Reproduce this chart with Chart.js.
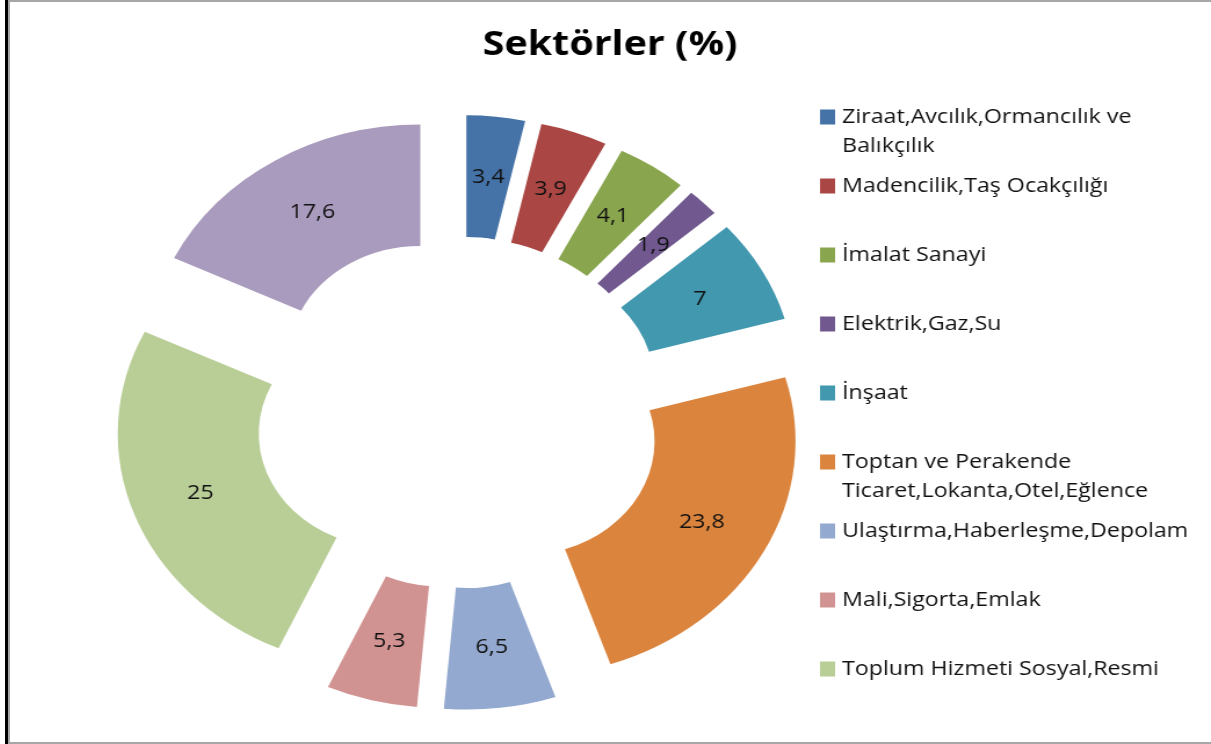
<!DOCTYPE html>
<html>
<head>
<meta charset="utf-8">
<script src="https://cdn.jsdelivr.net/npm/chart.js@4.4.1/dist/chart.umd.min.js"></script>
<style>
    html, body { margin: 0; padding: 0; background: #fff; overflow: hidden; width: 1211px; height: 744px; }
    #frame { position: absolute; left: 8px; top: 0; width: 1210px; height: 740px;
             border-top: 2px solid #a6a6a6; border-left: 2px solid #a6a6a6; border-bottom: 2px solid #a6a6a6; }
    #edge { position: absolute; left: 5px; top: 0; width: 3px; height: 744px; background: #000; }
    #chart { position: absolute; left: 9px; top: 0; }
</style>
</head>
<body>
<div id="frame"></div>
<div id="edge"></div>
<!-- the original picture is stretched sideways, so the canvas is too -->
<canvas id="chart" width="1036" height="744" style="width:1202px;height:744px"></canvas>
<script>
// Sector data
const sectors = [
    'Ziraat,Avcılık,Ormancılık ve Balıkçılık',
    'Madencilik,Taş Ocakçılığı',
    'İmalat Sanayi',
    'Elektrik,Gaz,Su',
    'İnşaat',
    'Toptan ve Perakende Ticaret,Lokanta,Otel,Eğlence',
    'Ulaştırma,Haberleşme,Depolam',
    'Mali,Sigorta,Emlak',
    'Toplum Hizmeti Sosyal,Resmi',
    'Diğer'
];
const shares = [3.4, 3.9, 4.1, 1.9, 7, 23.8, 6.5, 5.3, 25, 17.6];
const sliceColors = ['#4572A7', '#AA4643', '#89A54E', '#71588F', '#4198AF',
                     '#DB843D', '#93A9CF', '#D19392', '#B9CD96', '#A99BBD'];
const chartTitle = 'Sektörler (%)';

// Push every slice outwards along its middle angle
const explodePlugin = {
    id: 'explode',
    afterDatasetsUpdate(chart, args, opts) {
        chart.getDatasetMeta(0).data.forEach(arc => {
            const mid = (arc.startAngle + arc.endAngle) / 2;
            arc.x += Math.cos(mid) * opts.distance;
            arc.y += Math.sin(mid) * opts.distance;
        });
    }
};

// Value labels in the middle of each slice
const sliceLabels = {
    id: 'sliceLabels',
    afterDatasetsDraw(chart, args, opts) {
        const ctx = chart.ctx;
        const values = chart.data.datasets[0].data;
        ctx.save();
        ctx.font = opts.font;
        ctx.fillStyle = opts.color;
        ctx.textAlign = 'center';
        ctx.textBaseline = 'middle';
        chart.getDatasetMeta(0).data.forEach((arc, i) => {
            const mid = (arc.startAngle + arc.endAngle) / 2;
            const r = (arc.innerRadius + arc.outerRadius) / 2;
            ctx.fillText(String(values[i]).replace('.', ','),
                arc.x + Math.cos(mid) * r, arc.y + Math.sin(mid) * r);
        });
        ctx.restore();
    }
};

// Title centred on the whole canvas, not on the chart area
const pageTitle = {
    id: 'pageTitle',
    afterDraw(chart, args, opts) {
        const ctx = chart.ctx;
        ctx.save();
        ctx.font = opts.font;
        ctx.fillStyle = opts.color;
        ctx.textAlign = 'center';
        ctx.textBaseline = 'middle';
        ctx.fillText(opts.text, chart.width / 2, opts.y);
        ctx.restore();
    }
};

function wrapWords(ctx, text, maxWidth) {
    const words = text.split(' ');
    const lines = [];
    let line = '';
    words.forEach(w => {
        const test = line ? line + ' ' + w : w;
        if (line && ctx.measureText(test).width > maxWidth) {
            lines.push(line);
            line = w;
        } else {
            line = test;
        }
    });
    lines.push(line);
    return lines;
}

// Legend on the right, with wrapped labels (Excel style)
const sideLegend = {
    id: 'sideLegend',
    afterDraw(chart, args, opts) {
        const ctx = chart.ctx;
        const colors = chart.data.datasets[0].backgroundColor;
        ctx.save();
        ctx.font = opts.font;
        ctx.textBaseline = 'middle';
        chart.data.labels.forEach((label, i) => {
            const y = opts.top + i * opts.step;
            const lines = wrapWords(ctx, label, opts.maxWidth);
            if (y + (lines.length - 1) * opts.lineHeight > opts.bottom) return;
            ctx.fillStyle = colors[i];
            ctx.fillRect(opts.boxX, y - opts.boxHeight / 2, opts.boxWidth, opts.boxHeight);
            ctx.fillStyle = opts.color;
            lines.forEach((ln, j) => ctx.fillText(ln, opts.textX, y + j * opts.lineHeight));
        });
        ctx.restore();
    }
};

const chart = new Chart(document.getElementById('chart'), {
    type: 'doughnut',
    data: {
        labels: sectors,
        datasets: [{
            data: shares,
            backgroundColor: sliceColors,
            borderWidth: 0,
            hoverOffset: 0,
            clip: false
        }]
    },
    options: {
        responsive: false,
        animation: false,
        events: [],
        radius: 235.5,
        cutout: '48.4%',
        layout: { padding: { top: 84, right: 261, bottom: 3 } },
        plugins: {
            legend: { display: false },
            tooltip: { enabled: false },
            title: { display: false },
            explode: { distance: 62 },
            sliceLabels: { font: '20px "Open Sans"', color: '#111' },
            pageTitle: { text: chartTitle, font: 'bold 34px "Open Sans"', color: '#000', y: 45 },
            sideLegend: {
                font: '20px "Open Sans"', color: '#111',
                top: 117, step: 69, lineHeight: 29, bottom: 700, maxWidth: 302,
                boxX: 699, boxWidth: 13, boxHeight: 15, textX: 718
            }
        }
    },
    plugins: [explodePlugin, sliceLabels, pageTitle, sideLegend]
});
</script>
</body>
</html>
